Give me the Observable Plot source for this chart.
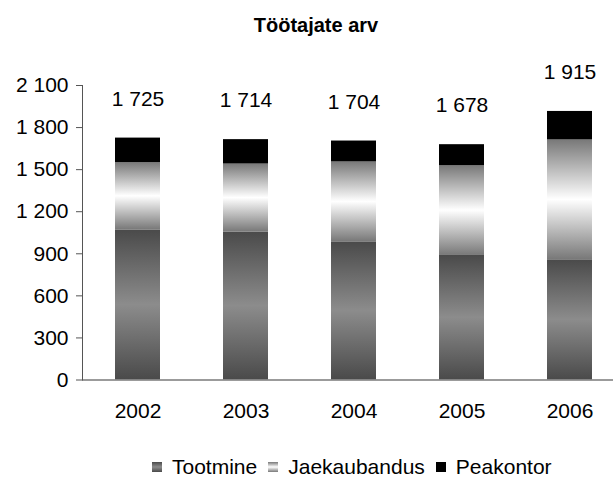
<!DOCTYPE html>
<html>
<head>
<meta charset="utf-8">
<script src="https://cdn.jsdelivr.net/npm/d3@7"></script>
<script src="https://cdn.jsdelivr.net/npm/@observablehq/plot@0.6"></script>
<style>
  html, body { margin: 0; padding: 0; background: #fff; }
  body { width: 613px; height: 484px; position: relative; overflow: hidden; font-family: "Liberation Sans", Arial, sans-serif; }
  #title { position: absolute; top: 14px; left: 0; width: 632px; text-align: center; font-weight: bold; font-size: 20px; color: #000; }
  #legend { position: absolute; top: 453px; left: 152px; font-size: 21px; color: #000; white-space: nowrap; }
  #legend span.item { display: inline-flex; align-items: center; margin-right: 11px; }
  #legend span.sw { display: inline-block; width: 10px; height: 10px; margin-right: 10px; }
  #chart { position: absolute; top: 0; left: 0; }
</style>
</head>
<body>
<div id="chart"></div>
<div id="title">Töötajate arv</div>
<div id="legend"></div>
<script>
const years = ["2002", "2003", "2004", "2005", "2006"];
const series = ["Tootmine", "Jaekaubandus", "Peakontor"];
const tootmine = [1070, 1055, 985, 888, 857];
const jaekaubandus = [480, 485, 570, 640, 855];
const peakontor = [175, 174, 149, 150, 203];
const totals = [1725, 1714, 1704, 1678, 1915];
const yTicks = [0, 300, 600, 900, 1200, 1500, 1800, 2100];

const fills = ["url(#gTootmine)", "url(#gJaek)", "#000000"];

const rows = [];
years.forEach((y, i) => {
  rows.push({year: y, series: series[0], value: tootmine[i]});
  rows.push({year: y, series: series[1], value: jaekaubandus[i]});
  rows.push({year: y, series: series[2], value: peakontor[i]});
});
const labels = years.map((y, i) => ({year: y, total: totals[i]}));

const fmt = v => d3.format(",")(v).replace(/,/g, " ");

const chart = Plot.plot({
  width: 613,
  height: 484,
  marginTop: 85,
  marginBottom: 104.5,
  marginLeft: 82,
  marginRight: 0,
  style: {fontFamily: "'Liberation Sans', Arial, sans-serif", fontSize: "21px", color: "#000", background: "transparent"},
  x: {domain: years, range: [82, 624], paddingInner: 0.585, paddingOuter: 0.2925, label: null},
  y: {domain: [0, 2100], label: null},
  color: {domain: series, range: fills},
  marks: [
    Plot.barY(rows, {x: "year", y: "value", fill: "series", order: series}),
    Plot.ruleY([0], {stroke: "#7a7a7a", strokeWidth: 1.5}),
    Plot.frame({anchor: "left", stroke: "#555"}),
    Plot.axisY({ticks: yTicks, tickSize: 6, tickPadding: 8, tickFormat: fmt, fontSize: 21, stroke: "#555", label: null}),
    Plot.axisX({tickSize: 0, tickPadding: 23, fontSize: 21, label: null}),
    Plot.text(labels, {x: "year", y: "total", text: d => fmt(d.total), dy: -39, fontSize: 21, fill: "#000"})
  ]
});

// gradient definitions
const ns = "http://www.w3.org/2000/svg";
const defs = document.createElementNS(ns, "defs");
function grad(id, stops) {
  const g = document.createElementNS(ns, "linearGradient");
  g.setAttribute("id", id);
  g.setAttribute("x1", "0"); g.setAttribute("y1", "0");
  g.setAttribute("x2", "0"); g.setAttribute("y2", "1");
  stops.forEach(([o, c]) => {
    const s = document.createElementNS(ns, "stop");
    s.setAttribute("offset", o);
    s.setAttribute("stop-color", c);
    g.appendChild(s);
  });
  defs.appendChild(g);
}
grad("gTootmine", [["0", "#4a4a4a"], ["0.5", "#8c8c8c"], ["1", "#4a4a4a"]]);
grad("gJaek", [["0", "#787878"], ["0.5", "#ffffff"], ["1", "#787878"]]);
chart.insertBefore(defs, chart.firstChild);
chart.style.overflow = "hidden";
document.getElementById("chart").appendChild(chart);

// legend
const swatchCss = [
  "linear-gradient(#4a4a4a, #8c8c8c, #4a4a4a)",
  "linear-gradient(#787878, #ffffff, #787878)",
  "#000"
];
const legend = document.getElementById("legend");
series.forEach((s, i) => {
  const item = document.createElement("span");
  item.className = "item";
  const sw = document.createElement("span");
  sw.className = "sw";
  sw.style.background = swatchCss[i];
  item.appendChild(sw);
  item.appendChild(document.createTextNode(s));
  legend.appendChild(item);
});
</script>
</body>
</html>
